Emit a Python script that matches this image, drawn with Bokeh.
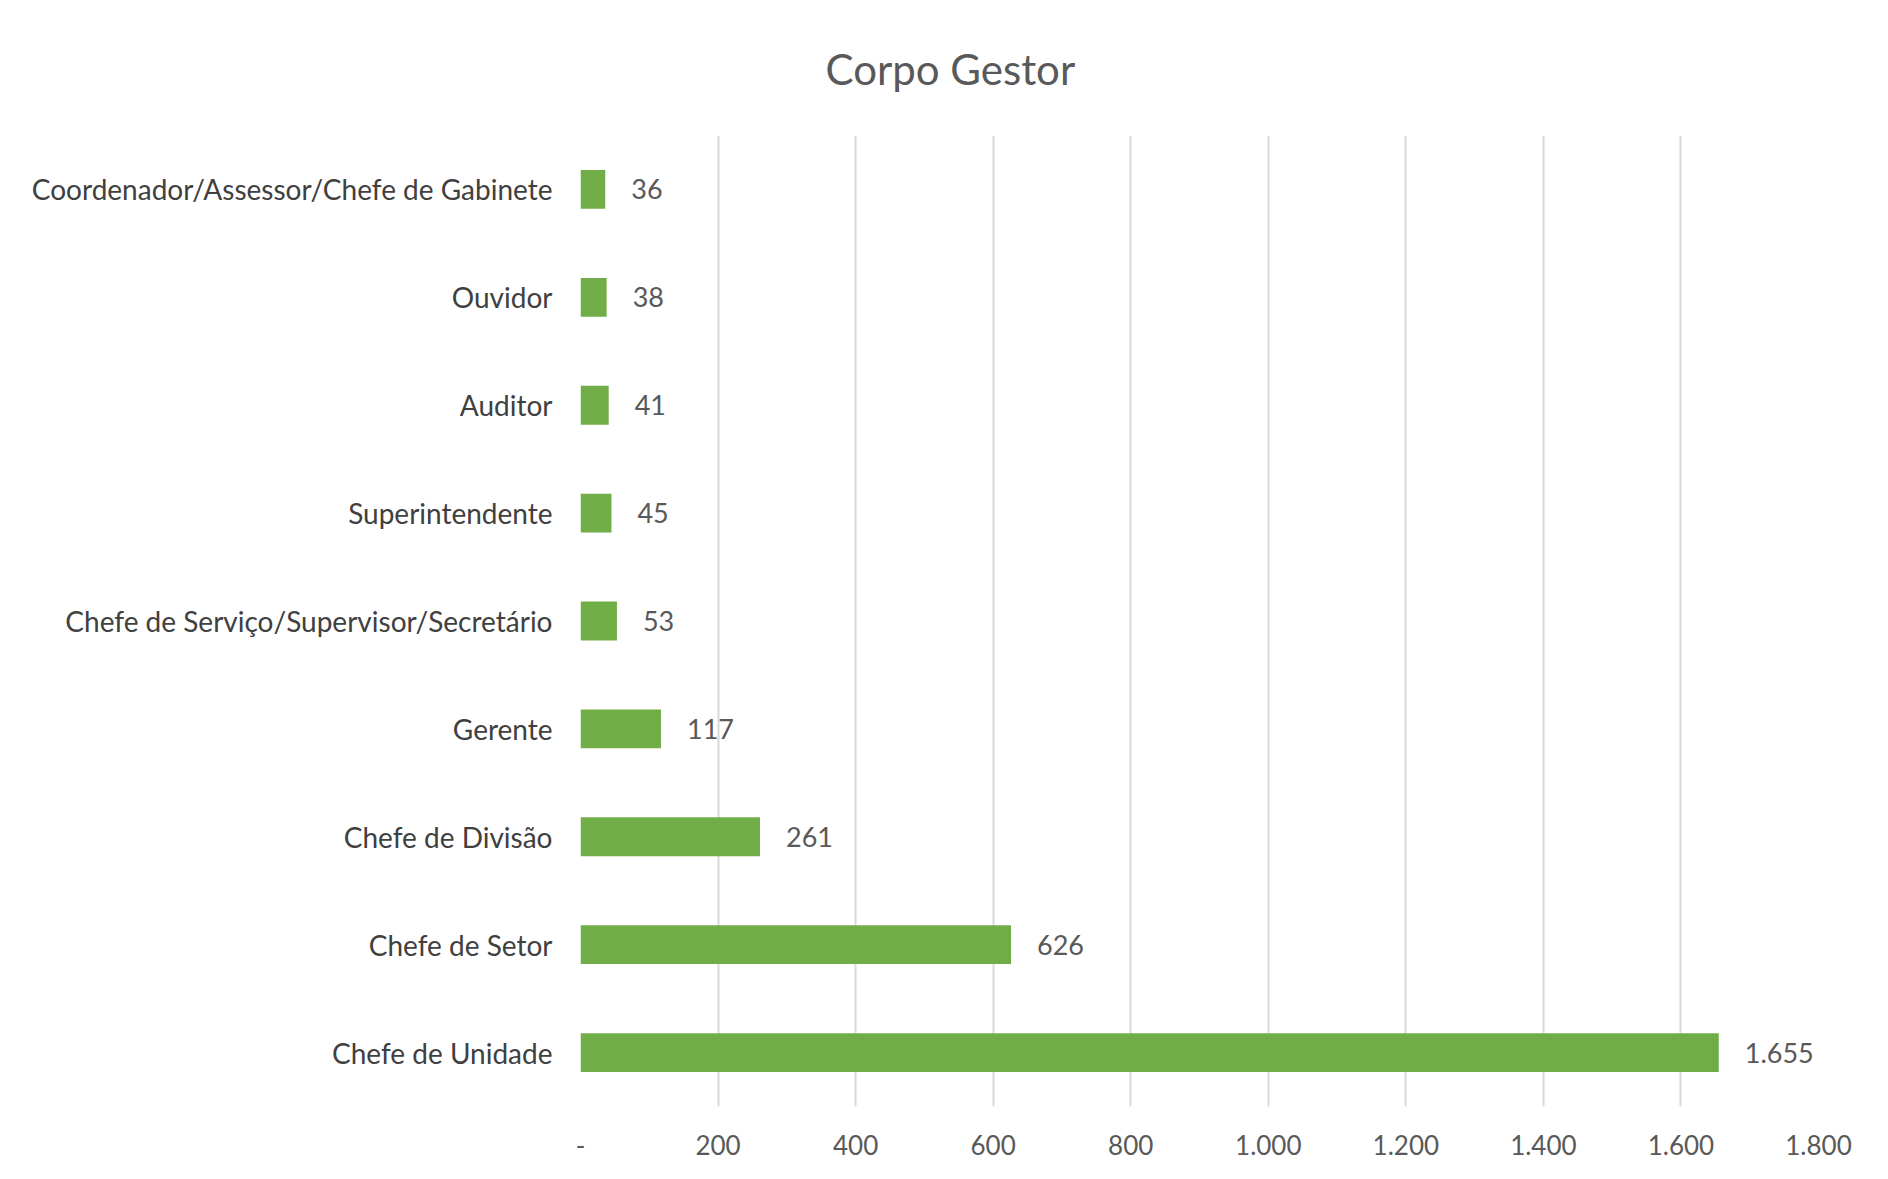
from bokeh.plotting import figure
from bokeh.models import FactorRange, ColumnDataSource, FixedTicker, Title
from bokeh.core.properties import value
from bokeh.embed import file_html
from bokeh.resources import INLINE

categories = [
    "Chefe de Unidade",
    "Chefe de Setor",
    "Chefe de Divisão",
    "Gerente",
    "Chefe de Serviço/Supervisor/Secretário",
    "Superintendente",
    "Auditor",
    "Ouvidor",
    "Coordenador/Assessor/Chefe de Gabinete",
]
counts = [1655, 626, 261, 117, 53, 45, 41, 38, 36]
x_ticks = [0, 200, 400, 600, 800, 1000, 1200, 1400, 1600, 1800]
x_tick_labels = ["-", "200", "400", "600", "800", "1.000", "1.200", "1.400", "1.600", "1.800"]
title_text = "Corpo Gestor"


def fmt(v):
    return f"{v:,}".replace(",", ".")


labels = [fmt(v) for v in counts]
src = ColumnDataSource(dict(cat=categories, val=counts, lab=labels))

FONT = "Lato"

p = figure(
    width=1878, height=1168,
    y_range=FactorRange(factors=categories, range_padding=0),
    x_range=(0, 1800),
    output_backend="svg", toolbar_location=None,
    min_border_left=580, min_border_right=60,
    min_border_top=133, min_border_bottom=62,
)
p.outline_line_color = None
p.border_fill_color = "white"

t = Title(text=title_text, align="left", text_font=FONT, text_font_size="42px",
          text_font_style="normal", text_color="#595959", standoff=83, offset=245)
p.add_layout(t, "above")

p.hbar(y="cat", right="val", left=0, height=0.36, source=src,
       fill_color="#70AD47", line_color=None)

p.text(x="val", y="cat", text="lab", source=src, x_offset=26,
       text_baseline="middle", text_align="left",
       text_font=value(FONT), text_font_size="27px", text_color="#595959")

p.xgrid.ticker = FixedTicker(ticks=x_ticks)
p.xgrid.grid_line_color = "#d9d9d9"
p.xgrid.grid_line_width = 2
p.ygrid.grid_line_color = None

p.xaxis.ticker = FixedTicker(ticks=x_ticks)
p.xaxis.major_label_overrides = {t_: l for t_, l in zip(x_ticks, x_tick_labels)}
p.xaxis.axis_line_color = None
p.xaxis.major_tick_line_color = None
p.xaxis.minor_tick_line_color = None
p.xaxis.major_label_text_font = FONT
p.xaxis.major_label_text_font_size = "26px"
p.xaxis.major_label_text_color = "#595959"
p.xaxis.major_label_standoff = 22

p.yaxis.axis_line_color = None
p.yaxis.major_tick_line_color = None
p.yaxis.minor_tick_line_color = None
p.yaxis.major_label_text_font = FONT
p.yaxis.major_label_text_font_size = "28px"
p.yaxis.major_label_text_color = "#404040"
p.yaxis.major_label_standoff = 22

open("out.html", "w").write(file_html(p, INLINE))
